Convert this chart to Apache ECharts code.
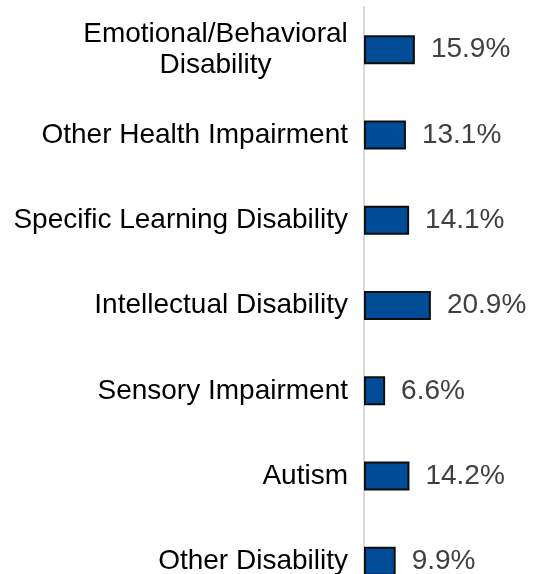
<!DOCTYPE html>
<html>
<head>
<meta charset="utf-8">
<script src="https://cdn.jsdelivr.net/npm/echarts@6/dist/echarts.min.js"></script>
<style>
  html, body { margin: 0; padding: 0; background: #fff; overflow: hidden; }
  #chart { width: 536px; height: 604px; }
</style>
</head>
<body>
<div id="chart"></div>
<script>
// categories top to bottom, values in percent
const categories = [
  "Emotional/Behavioral\nDisability",
  "Other Health Impairment",
  "Specific Learning Disability",
  "Intellectual Disability",
  "Sensory Impairment",
  "Autism",
  "Other Disability"
];
const percents = [15.9, 13.1, 14.1, 20.9, 6.6, 14.2, 9.9];

// the chart is taller than the window, the last row is cut off like the original
const chart = echarts.init(document.getElementById("chart"));
const font = "Liberation Sans, Arial, sans-serif";

chart.setOption({
  animation: false,
  backgroundColor: "#fff",
  grid: { left: 364, right: 12, top: 7, bottom: 0 },
  xAxis: {
    type: "value",
    min: 0,
    max: 50,
    show: false
  },
  yAxis: {
    type: "category",
    inverse: true,
    data: categories,
    axisTick: { show: false },
    axisLine: { show: true, lineStyle: { color: "#d9d9d9", width: 2 } },
    axisLabel: {
      margin: 16,
      fontFamily: font,
      fontSize: 28,
      color: "#000",
      lineHeight: 31,
      formatter: (v) => {
        if (v.indexOf("\n") < 0) return v;
        return v.split("\n").map(s => "{c|" + s + "}").join("\n");
      },
      rich: {
        c: { width: 265, align: "center", fontFamily: font, fontSize: 28, color: "#000", lineHeight: 31 }
      }
    }
  },
  series: [{
    type: "bar",
    data: percents,
    barWidth: 29,
    itemStyle: { color: "#004c97", borderColor: "#0d0d0d", borderWidth: 2 },
    label: {
      show: true,
      position: "right",
      distance: 16,
      fontFamily: font,
      fontSize: 28,
      color: "#404040",
      formatter: (p) => p.value.toFixed(1) + "%"
    }
  }]
});
</script>
</body>
</html>
